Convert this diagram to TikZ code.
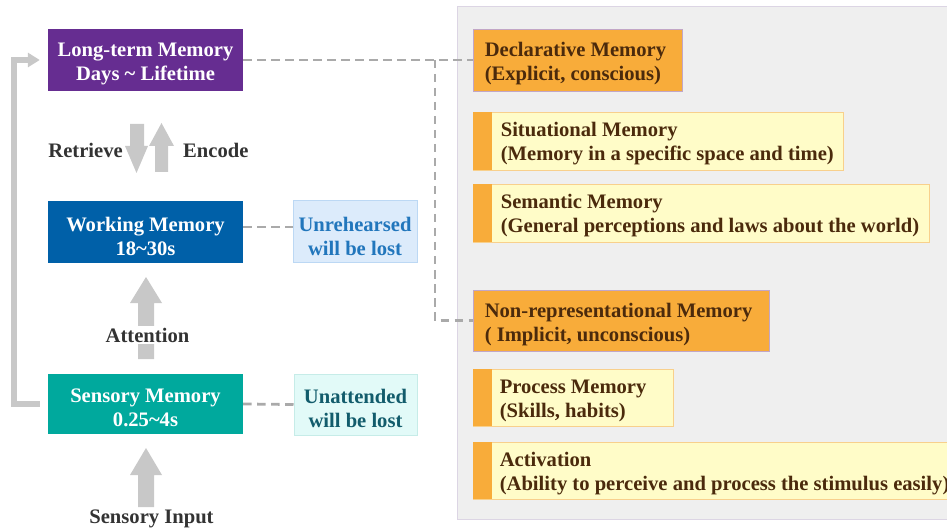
\documentclass[tikz,border=0pt]{standalone}
\usepackage{fontspec}
\setmainfont{Liberation Serif}
\usetikzlibrary{arrows.meta}

\definecolor{ltpurple}{HTML}{662D91}
\definecolor{wmblue}{HTML}{0060A8}
\definecolor{smteal}{HTML}{00A99D}
\definecolor{unrfill}{HTML}{DCEBFB}
\definecolor{unrdraw}{HTML}{BCD8F4}
\definecolor{unrtext}{HTML}{2176BC}
\definecolor{unafill}{HTML}{E2FAF8}
\definecolor{unadraw}{HTML}{C6ECE8}
\definecolor{unatext}{HTML}{125C6C}
\definecolor{orangec}{HTML}{F8AC3A}
\definecolor{orangeedge}{HTML}{C2A6C6}
\definecolor{yellowc}{HTML}{FFFCC8}
\definecolor{yellowedge}{HTML}{F8D08C}
\definecolor{paneltint}{HTML}{EFEFEF}
\definecolor{paneledge}{HTML}{DCD5E4}
\definecolor{browntext}{HTML}{4B2A0C}
\definecolor{labelgray}{HTML}{333333}
\definecolor{arrowgray}{HTML}{C8C8C8}
\definecolor{dashgray}{HTML}{AAAAAA}

\begin{document}
\begin{tikzpicture}[x=1pt,y=-1pt,
  font=\fontsize{20.6}{24}\selectfont\bfseries,
  membox/.style={rectangle, inner sep=0pt},
  lossbox/.style={rectangle, inner sep=0pt, line width=1pt},
  centertext/.style={inner sep=0pt, align=center},
  mainbox/.style={rectangle, inner sep=0pt, fill=orangec, draw=orangeedge, line width=0.8pt},
  subbox/.style={rectangle, inner sep=0pt, fill=yellowc, draw=yellowedge, line width=0.8pt},
  boxtext/.style={anchor=west, align=left, inner sep=0pt, text=browntext},
  sidelabel/.style={inner sep=0pt, text=labelgray},
  linkline/.style={draw=dashgray, line width=2.8pt, dash pattern=on 8.5pt off 5.5pt},
  blockarrow/.style={fill=arrowgray},
  feedback/.style={draw=arrowgray, line width=6pt, -{Triangle[length=12pt,width=14pt]}}
]
\useasboundingbox (0,0) rectangle (947,529);
\clip (0,0) rectangle (947,529);

% right-hand panel
\node[rectangle, fill=paneltint, draw=paneledge, line width=1pt,
      minimum width=510pt, minimum height=512pt, inner sep=0pt] (panel) at (712,263) {};

% memory stages
\node[membox, fill=ltpurple, minimum width=195pt, minimum height=62pt] (lt) at (145.5,60) {};
\node[centertext, text=white] (ltt) at ([yshift=-4pt]lt.center) {Long-term Memory\\Days \textasciitilde{} Lifetime};
\node[membox, fill=wmblue, minimum width=195pt, minimum height=62pt] (wm) at (145.5,232) {};
\node[centertext, text=white] (wmt) at ([yshift=-4pt]wm.center) {Working Memory\\18\textasciitilde30s};
\node[membox, fill=smteal, minimum width=195pt, minimum height=60pt] (sm) at (145.5,404) {};
\node[centertext, text=white] (smt) at ([yshift=-4pt]sm.center) {Sensory Memory\\0.25\textasciitilde4s};

% loss notes
\node[lossbox, fill=unrfill, draw=unrdraw, minimum width=124pt, minimum height=62pt] (unr) at (355,232) {};
\node[centertext, text=unrtext] (unrt) at ([yshift=-4pt]unr.center) {Unrehearsed\\will be lost};
\node[lossbox, fill=unafill, draw=unadraw, minimum width=123pt, minimum height=61pt] (una) at (355.5,404.5) {};
\node[centertext, text=unatext] (unat) at ([yshift=-4pt]una.center) {Unattended\\will be lost};

% long-term memory types
\node[mainbox, minimum width=209pt, minimum height=62pt] (decl) at (577.5,60) {};
\node[boxtext] (declt) at ([xshift=12pt,yshift=-4pt]decl.west) {Declarative Memory\\(Explicit, conscious)};

\node[subbox, minimum width=370pt, minimum height=58pt] (sit) at (658,141) {};
\fill[orangec] (sit.north west) rectangle ([xshift=19pt]sit.south west);
\node[boxtext] (sitt) at ([xshift=28pt,yshift=-3pt]sit.west) {Situational Memory\\(Memory in a specific space and time)};

\node[subbox, minimum width=456pt, minimum height=58pt] (sem) at (701,213) {};
\fill[orangec] (sem.north west) rectangle ([xshift=19pt]sem.south west);
\node[boxtext] (semt) at ([xshift=28pt,yshift=-3pt]sem.west) {Semantic Memory\\(General perceptions and laws about the world)};

\node[mainbox, minimum width=296pt, minimum height=61pt] (nonrep) at (621,320.5) {};
\node[boxtext] (nonrept) at ([xshift=12pt,yshift=-4pt]nonrep.west) {Non-representational Memory\\( Implicit, unconscious)};

\node[subbox, minimum width=200pt, minimum height=57pt] (proc) at (573,397.5) {};
\fill[orangec] (proc.north west) rectangle ([xshift=19pt]proc.south west);
\node[boxtext] (proct) at ([xshift=27pt,yshift=-3pt]proc.west) {Process Memory\\(Skills, habits)};

\node[subbox, minimum width=487pt, minimum height=57pt] (act) at (716.5,470.5) {};
\fill[orangec] (act.north west) rectangle ([xshift=19pt]act.south west);
\node[boxtext] (actt) at ([xshift=27pt,yshift=-3pt]act.west) {Activation\\(Ability to perceive and process the stimulus easily)};

% dashed links
\coordinate (branch) at (435,60);
\draw[linkline] (lt.east) -- (decl.west);
\draw[linkline] (branch) |- (nonrep.west);
\draw[linkline] ([yshift=5pt]wm.east) -- ([yshift=5pt]unr.west);
\draw[linkline] (sm.east) -- (una.west);

% rehearsal loop back to long-term memory
\draw[feedback] ([xshift=-8pt]sm.west) -| ([xshift=-34pt]lt.west) -- ([xshift=-8pt]lt.west);

% retrieve / encode
\fill[blockarrow] (130,124) -- (144,124) -- (144,146) -- (148,146) -- (136.5,173) -- (125,146) -- (130,146) -- cycle;
\fill[blockarrow] (155,172) -- (168,172) -- (168,146) -- (174,146) -- (161.5,123) -- (149,146) -- (155,146) -- cycle;
\node[sidelabel, anchor=east] (retr) at (123,150) {Retrieve};
\node[sidelabel, anchor=west] (enc) at (183,150) {Encode};

% attention
\fill[blockarrow] (138,359) -- (154,359) -- (154,303) -- (162,303) -- (146,277) -- (130,303) -- (138,303) -- cycle;
\node[sidelabel, fill=white, inner ysep=2pt, inner xsep=1pt] (att) at (147.5,335) {Attention};

% sensory input
\fill[blockarrow] (138,507) -- (154,507) -- (154,475) -- (162,475) -- (146,448) -- (130,475) -- (138,475) -- cycle;
\node[sidelabel] (sin) at (151.5,519) {Sensory Input};
\end{tikzpicture}
\end{document}
